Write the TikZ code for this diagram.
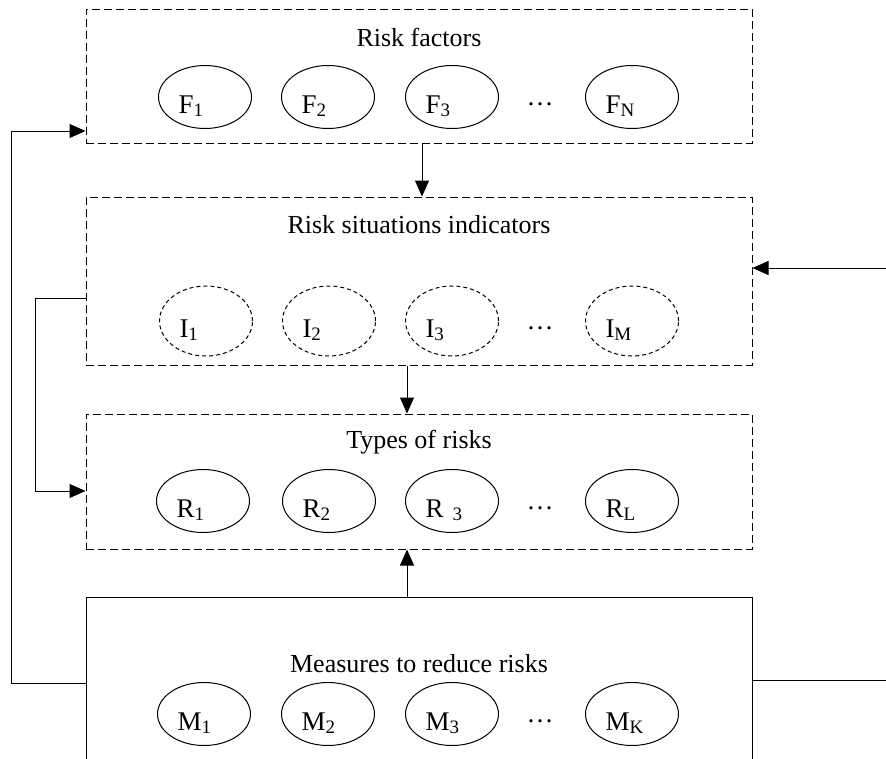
\documentclass[tikz,border=0pt]{standalone}
\usepackage{fontspec}
\setmainfont{Liberation Serif}
\usetikzlibrary{arrows.meta,positioning,shapes.geometric}

\newcommand{\idx}[1]{\raisebox{-2.5pt}{\fontsize{19}{20}\selectfont #1}}

\tikzset{
  group/.style={draw,line width=1pt,dash pattern=on 8pt off 4pt,minimum width=666pt,inner sep=0pt},
  item/.style={draw,ellipse,line width=1pt,minimum width=93pt,minimum height=63pt,inner sep=0pt,
    text width=53pt,align=left,text height=33pt,text depth=0pt,font=\fontsize{27}{30}\selectfont},
  title/.style={font=\fontsize{26}{29}\selectfont},
  gap/.style={font=\fontsize{27}{30}\selectfont},
}

\begin{document}
\begin{tikzpicture}[x=1pt,y=-1pt,>={Triangle[length=16pt,width=14pt]},line width=1pt]
  \useasboundingbox (0,0) rectangle (886,758);
  \clip (0,0) rectangle (886,758);
  % groups
  \node[group,minimum height=134pt] (fbox) at (419,76) {};
  \node[group,minimum height=168pt] (ibox) at (419,281) {};
  \node[group,minimum height=135pt] (rbox) at (419,481.5) {};
  \node[draw,line width=1pt,minimum width=666pt,minimum height=186pt] (mbox) at (419,690) {};
  \node[title] (ftitle) at (419,37) {Risk factors};
  \node[title] (ititle) at (419,225) {Risk situations indicators};
  \node[title] (rtitle) at (419,442) {Types of risks};
  \node[title] (mtitle) at (419,664) {Measures to reduce risks};
  % risk factors
  \node[item] (f1) at (205,97) {F\idx{1}};
  \node[item] (f2) at (328,97) {F\idx{2}};
  \node[item] (f3) at (452,97) {F\idx{3}};
  \node[gap] (fdots) at (540,104) {\dots};
  \node[item] (fn) at (632,97) {F\idx{N}};
  % indicators
  \node[item,dash pattern=on 4pt off 3pt,minimum height=70pt] (i1) at (206,321) {I\idx{1}};
  \node[item,dash pattern=on 4pt off 3pt,minimum height=70pt] (i2) at (329,321) {I\idx{2}};
  \node[item,dash pattern=on 4pt off 3pt,minimum height=70pt] (i3) at (452,321) {I\idx{3}};
  \node[gap] (idots) at (540,328) {\dots};
  \node[item,dash pattern=on 4pt off 3pt,minimum height=70pt] (im) at (632,321) {I\idx{M}};
  % risks
  \node[item] (r1) at (203,501) {R\idx{1}};
  \node[item] (r2) at (329,501) {R\idx{2}};
  \node[item] (r3) at (452,501) {R \idx{3}};
  \node[gap] (rdots) at (540,508) {\dots};
  \node[item] (rl) at (632,501) {R\idx{L}};
  % measures
  \node[item] (m1) at (204,714) {M\idx{1}};
  \node[item] (m2) at (328,714) {M\idx{2}};
  \node[item] (m3) at (452,714) {M\idx{3}};
  \node[gap] (mdots) at (540,721) {\dots};
  \node[item] (mk) at (632,714) {M\idx{K}};
  % connectors
  \draw[->] ([xshift=3pt]fbox.south) -- ([xshift=3pt]ibox.north);
  \draw[->] ([xshift=-12pt]ibox.south) -- ([xshift=-12pt]rbox.north);
  \draw[->] ([xshift=-12pt]mbox.north) -- ([xshift=-12pt]rbox.south);
  \draw[->] ([yshift=7pt]mbox.west) -- ++(-74,0) |- ([yshift=-55pt]fbox.west);
  \draw[->] ([yshift=-17pt]ibox.west) -- ++(-50,0) |- ([yshift=-9.5pt]rbox.west);
  \coordinate (rin) at (886,268);
  \coordinate (rout) at (886,680);
  \draw[->] (rin) -- (rin -| ibox.east);
  \draw (mbox.east |- rout) -- (rout);
\end{tikzpicture}
\end{document}
